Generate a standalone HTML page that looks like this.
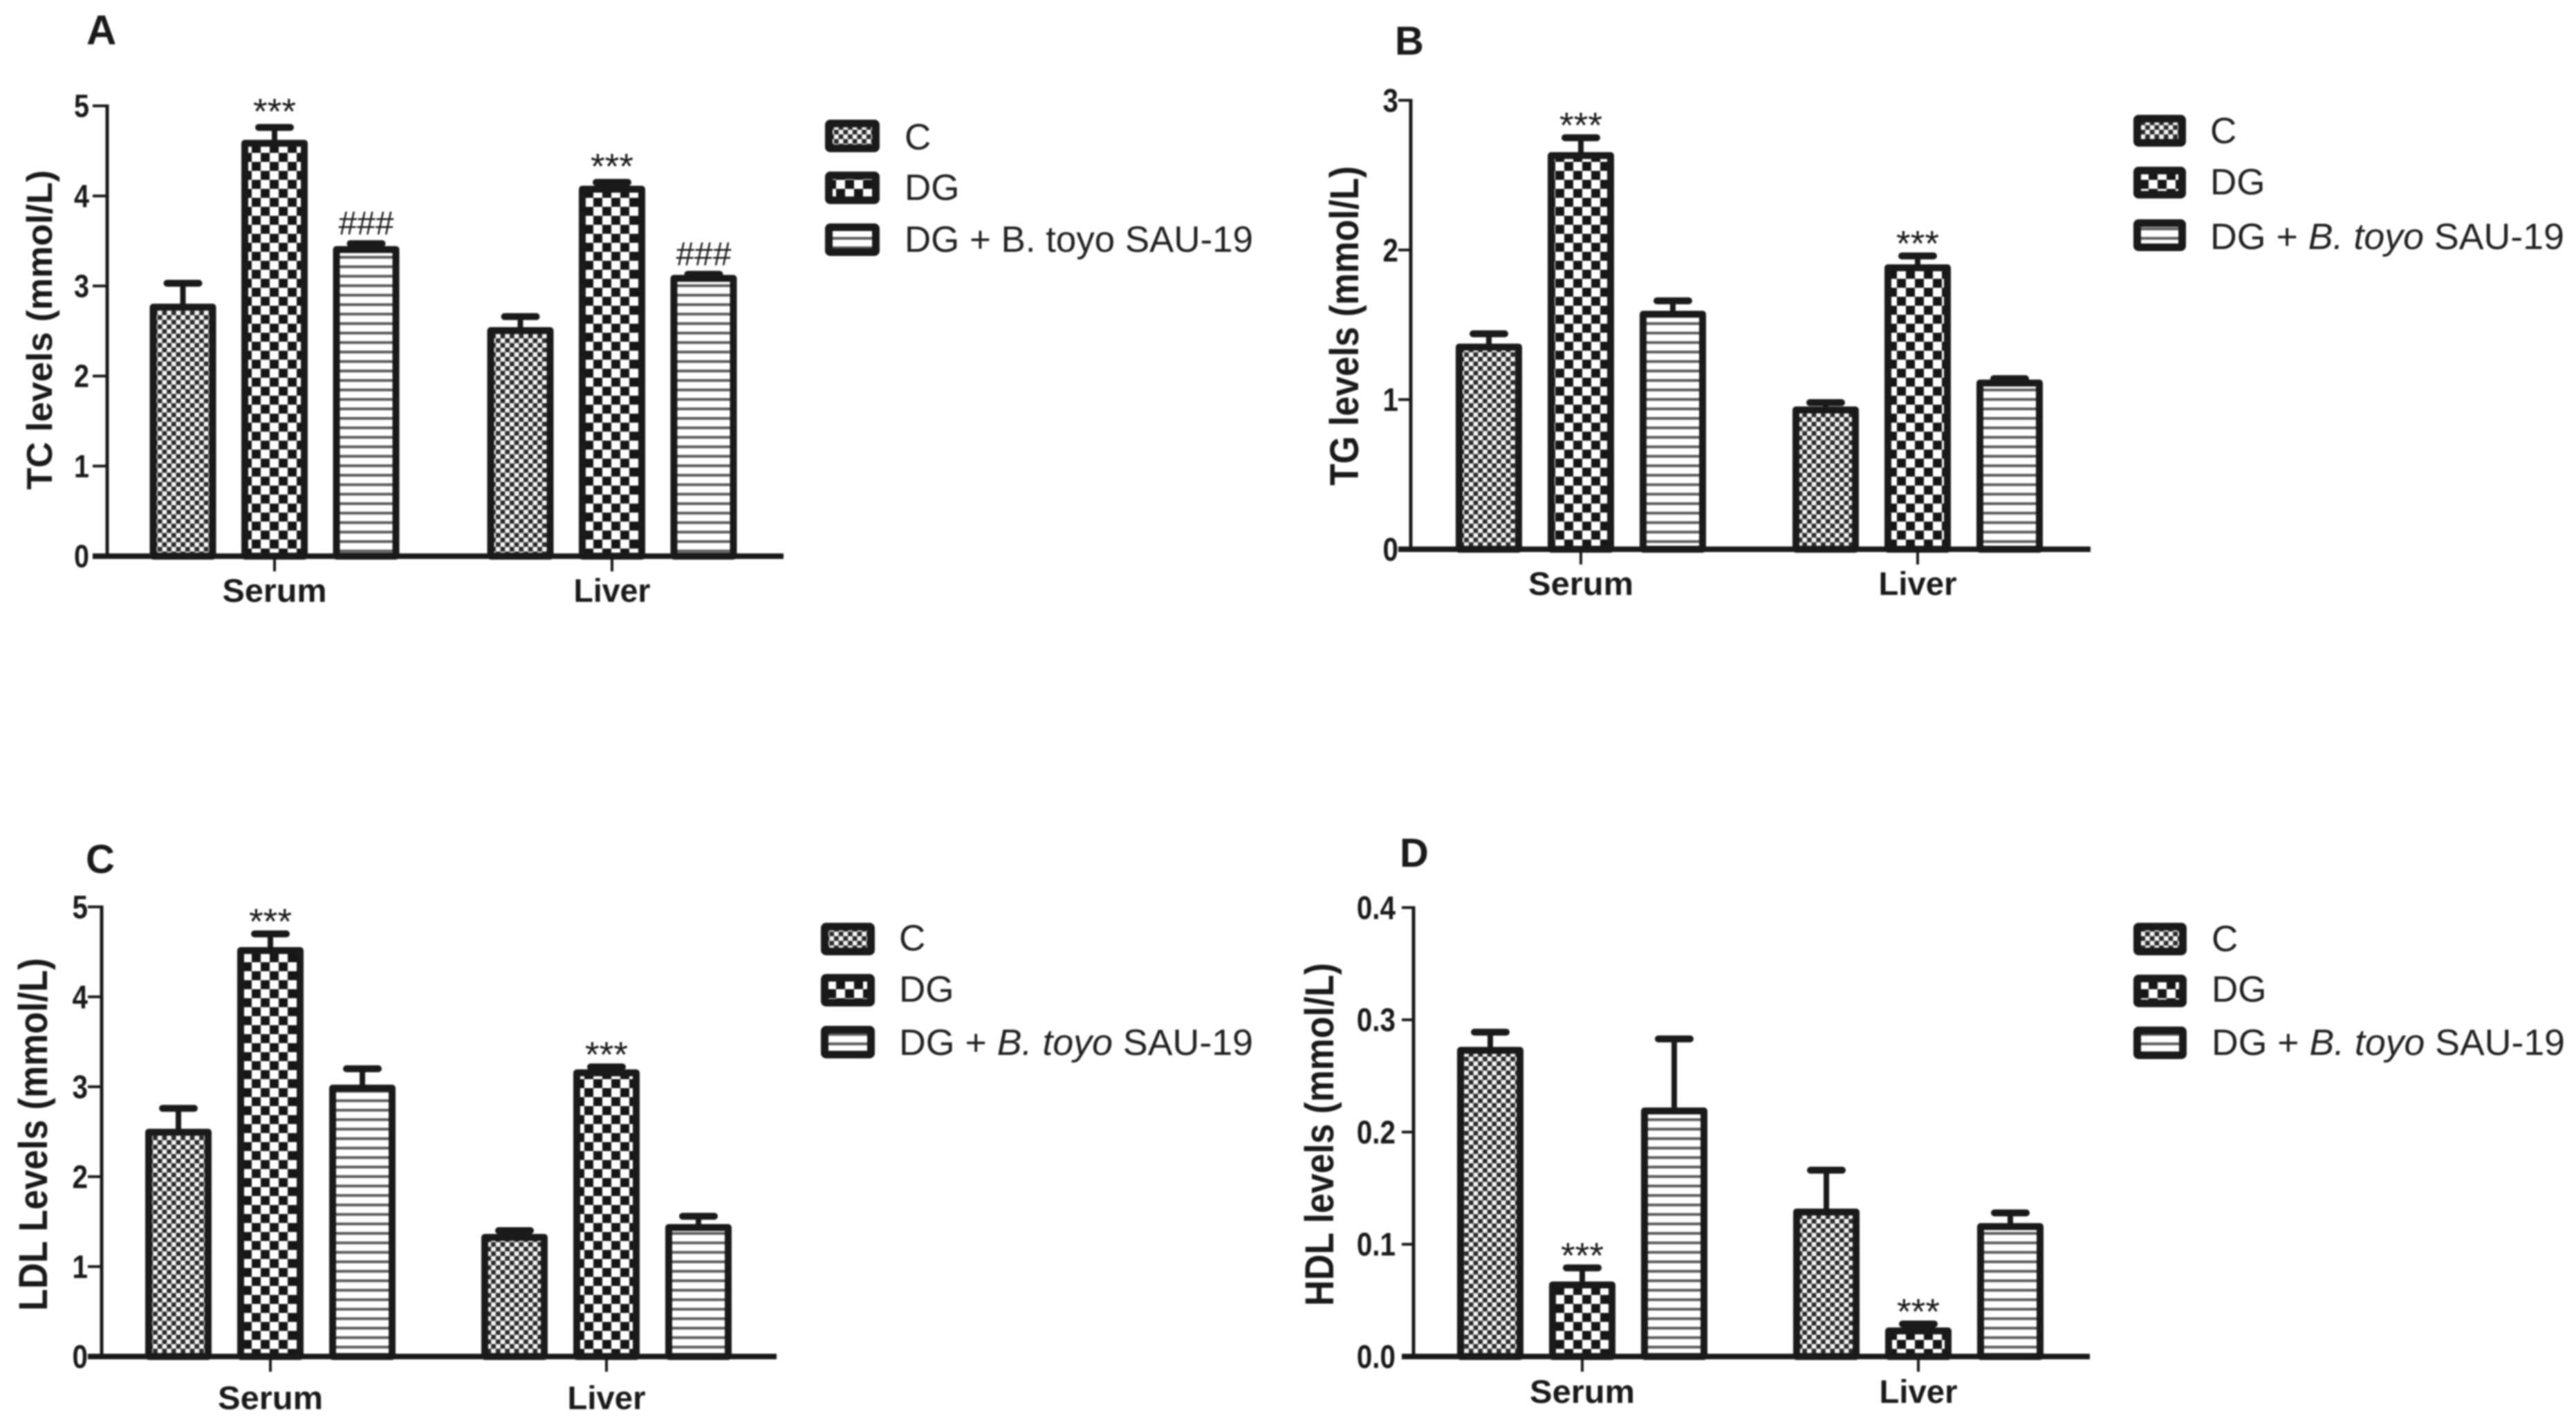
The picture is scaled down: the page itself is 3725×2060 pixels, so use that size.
<!DOCTYPE html>
<html lang="en">
<head>
<meta charset="utf-8">
<title>Lipid levels by treatment group</title>
<style>
html,body{margin:0;padding:0;background:#fff;width:3725px;height:2060px;overflow:hidden}
svg{display:block;font-family:"Liberation Sans",sans-serif}
#art{filter:blur(1.1px)}
</style>
</head>
<body>
<svg id="chart" xmlns="http://www.w3.org/2000/svg" width="3725" height="2060" viewBox="0 0 3725 2060">
<defs>
<pattern id="p-fine" patternUnits="userSpaceOnUse" width="13.4" height="13.4">
<rect width="13.4" height="13.4" fill="#f4f4f4"/>
<rect x="0" y="0" width="6.7" height="6.7" fill="#2a2a2a"/>
<rect x="6.7" y="6.7" width="6.7" height="6.7" fill="#2a2a2a"/>
</pattern>
<pattern id="p-coarse" patternUnits="userSpaceOnUse" width="26" height="26">
<rect width="26" height="26" fill="#fff"/>
<rect x="0" y="0" width="13" height="13" fill="#161616"/>
<rect x="13" y="13" width="13" height="13" fill="#161616"/>
</pattern>
<pattern id="p-stripe" patternUnits="userSpaceOnUse" width="13.7" height="13.7">
<rect width="13.7" height="13.7" fill="#fff"/>
<rect x="0" y="0" width="13.7" height="4" fill="#5c5c5c"/>
</pattern>
</defs>
<rect width="3725" height="2060" fill="#fff"/>
<g id="art"></g>
</svg>
<script>
const categories = ['Serum', 'Liver'];
const seriesNames = ['C', 'DG', 'DG + B. toyo SAU-19'];

const tcTicks = ['0', '1', '2', '3', '4', '5'];
const tcMeans = [2.78, 4.60, 3.42, 2.52, 4.09, 3.10];
const tcErrTops = [3.03, 4.76, 3.47, 2.66, 4.15, 3.13];
const tcMarks = ['', '***', '###', '', '***', '###'];

const tgTicks = ['0', '1', '2', '3'];
const tgMeans = [1.36, 2.64, 1.58, 0.94, 1.89, 1.12];
const tgErrTops = [1.44, 2.75, 1.66, 0.98, 1.96, 1.14];
const tgMarks = ['', '***', '', '', '***', ''];

const ldlTicks = ['0', '1', '2', '3', '4', '5'];
const ldlMeans = [2.51, 4.53, 3.00, 1.34, 3.17, 1.45];
const ldlErrTops = [2.76, 4.70, 3.20, 1.40, 3.22, 1.56];
const ldlMarks = ['', '***', '', '', '***', ''];

const hdlTicks = ['0.0', '0.1', '0.2', '0.3', '0.4'];
const hdlMeans = [0.274, 0.065, 0.220, 0.130, 0.024, 0.117];
const hdlErrTops = [0.289, 0.079, 0.283, 0.166, 0.029, 0.128];
const hdlMarks = ['', '***', '', '', '***', ''];

const panels = [
  {id:'a', letter:'A', lx:125, ly:64, lfs:60, title:'TC levels (mmol/L)', tx:75, tc:477, tl:462, tfs:52,
   ticks:tcTicks, means:tcMeans, tops:tcErrTops, marks:tcMarks,
   ax:155, y0:804, yTop:153, axL:134, axR:1133, tickL:134, labR:129, nfs:46,
   centers:[397,885], pitch:132.5, catY:870, catW:[151,111], cfs:47, starGap:32,
   legX:1193, legW:79, legY:[173,248,323], legH:47, legTx:1308, legEnd:1812, legBase:[216,289,364], italic:false},
  {id:'b', letter:'B', lx:2017, ly:79, lfs:58, title:'TG levels (mmol/L)', tx:1964, tc:471, tl:462, tfs:58,
   ticks:tgTicks, means:tgMeans, tops:tgErrTops, marks:tgMarks,
   ax:2040, y0:794, yTop:145, axL:2022, axR:3023, tickL:2022, labR:2022, nfs:47,
   centers:[2286,2773], pitch:133, catY:860, catW:[152,113], cfs:47, starGap:27,
   legX:3085, legW:76, legY:[166,241,317], legH:46, legTx:3196, legEnd:3708, legBase:[207,281,360], italic:true},
  {id:'c', letter:'C', lx:124, ly:1262, lfs:58, title:'LDL Levels (mmol/L)', tx:68, tc:1640, tl:510, tfs:58,
   ticks:ldlTicks, means:ldlMeans, tops:ldlErrTops, marks:ldlMarks,
   ax:147, y0:1961, yTop:1311, axL:127, axR:1123, tickL:127, labR:127, nfs:47,
   centers:[391,877], pitch:133, catY:2037, catW:[152,113], cfs:47, starGap:27,
   legX:1187, legW:78, legY:[1334,1408,1483], legH:47, legTx:1300, legEnd:1812, legBase:[1374,1448,1525], italic:true},
  {id:'d', letter:'D', lx:2024, ly:1253, lfs:58, title:'HDL levels (mmol/L)', tx:1928, tc:1640, tl:496, tfs:58,
   ticks:hdlTicks, means:hdlMeans, tops:hdlErrTops, marks:hdlMarks,
   ax:2044, y0:1961, yTop:1312, axL:2027, axR:3022, tickL:2027, labR:2018, nfs:47,
   centers:[2288,2774], pitch:133, catY:2028, catW:[152,113], cfs:47, starGap:27,
   legX:3085, legW:77, legY:[1334,1409,1484], legH:47, legTx:3198, legEnd:3709, legBase:[1375,1448,1525], italic:true}
];

const NS = 'http://www.w3.org/2000/svg';
const INK = '#1a1a1a';
const FILLS = ['url(#p-fine)', 'url(#p-coarse)', 'url(#p-stripe)'];
const art = document.getElementById('art');

function mk(parent, tag, attrs, text) {
  const node = document.createElementNS(NS, tag);
  for (const k in attrs) node.setAttribute(k, attrs[k]);
  if (text !== undefined) node.textContent = text;
  parent.appendChild(node);
  return node;
}

function drawPanel(p) {
  const maxV = parseFloat(p.ticks[p.ticks.length - 1]);
  const scaleY = v => p.y0 - (v / maxV) * (p.y0 - p.yTop);
  const scaleX = (g, s) => p.centers[g] + (s - 1) * p.pitch;
  const barW = 96, sw = 10, drop = 2;

  const g = mk(art, 'g', {});
  
  

  let el = mk(g, 'text', {x:p.lx, y:p.ly, 'font-size':p.lfs, 'font-weight':'bold', fill:INK}, p.letter);
  
  

  el = mk(g, 'text', {transform:'translate(' + p.tx + ',' + p.tc + ') rotate(-90)', 'text-anchor':'middle', 'font-size':p.tfs, 'font-weight':'bold', fill:INK, textLength:p.tl, lengthAdjust:'spacingAndGlyphs'}, p.title);
  
  

  // bars + error bars
  p.means.forEach((v, i) => {
    const s = i % 3, gi = Math.floor(i / 3);
    const cx = scaleX(gi, s), top = scaleY(v), cap = scaleY(p.tops[i]);

    el = mk(g, 'line', {x1:cx, x2:cx, y1:top, y2:cap, stroke:INK, 'stroke-width':8});
    
    

    el = mk(g, 'line', {x1:cx - 23, x2:cx + 23, y1:cap, y2:cap, stroke:INK, 'stroke-width':10, 'stroke-linecap':'round'});
    
    

    el = mk(g, 'rect', {x:cx - barW / 2 + sw / 2, y:top + drop, width:barW - sw, height:Math.max(p.y0 - top - drop, 1), fill:FILLS[s], stroke:INK, 'stroke-width':sw, 'stroke-linejoin':'round'});
    
    

    const mark = p.marks[i];
    if (mark === '***') {
      el = mk(g, 'text', {x:cx, y:cap - p.starGap + 27, 'text-anchor':'middle', 'font-size':52, fill:INK, textLength:62, lengthAdjust:'spacingAndGlyphs'}, mark);
      
      
    } else if (mark) {
      el = mk(g, 'text', {x:cx, y:cap - p.starGap + 19, 'text-anchor':'middle', 'font-size':48, fill:INK, textLength:80, lengthAdjust:'spacingAndGlyphs'}, mark);
      
      
    }
  });

  // axes
  el = mk(g, 'line', {x1:p.ax, x2:p.ax, y1:p.yTop - 2, y2:p.y0, stroke:INK, 'stroke-width':5});
  
  

  el = mk(g, 'line', {x1:p.axL, x2:p.axR, y1:p.y0, y2:p.y0, stroke:INK, 'stroke-width':8});
  
  

  p.ticks.forEach((t, i) => {
    const y = scaleY(parseFloat(t));
    el = mk(g, 'line', {x1:p.tickL, x2:p.ax, y1:y, y2:y, stroke:INK, 'stroke-width':i === 0 ? 8 : 4});
    
    

    const natural = t.length === 1 ? 0.556 : 1.39;
    el = mk(g, 'text', {x:p.labR, y:y + p.nfs * 0.35, 'text-anchor':'end', 'font-size':p.nfs, 'font-weight':'bold', fill:INK, textLength:natural * p.nfs * 0.86, lengthAdjust:'spacingAndGlyphs'}, t);
    
    
  });

  categories.forEach((c, i) => {
    const x = p.centers[i];
    el = mk(g, 'line', {x1:x, x2:x, y1:p.y0, y2:p.y0 + 22, stroke:INK, 'stroke-width':4});
    
    

    el = mk(g, 'text', {x:x, y:p.catY, 'text-anchor':'middle', 'font-size':p.cfs, 'font-weight':'bold', fill:INK, textLength:p.catW[i], lengthAdjust:'spacingAndGlyphs'}, c);
    
    
  });

  // legend
  seriesNames.forEach((name, i) => {
    const lg = mk(g, 'g', {});
    
    

    el = mk(lg, 'rect', {x:p.legX + 5.5, y:p.legY[i] + 5.5, width:p.legW - 11, height:p.legH - 11, rx:2, fill:FILLS[i], stroke:INK, 'stroke-width':11, 'stroke-linejoin':'round'});
    
    

    const attrs = {x:p.legTx, y:p.legBase[i], 'font-size':53, fill:'#222'};
    if (i === 2) { attrs.textLength = p.legEnd - p.legTx; attrs.lengthAdjust = 'spacingAndGlyphs'; }
    const label = mk(lg, 'text', attrs);
    
    
    if (i === 2 && p.italic) {
      label.appendChild(document.createTextNode('DG + '));
      mk(label, 'tspan', {'font-style':'italic'}, 'B. toyo');
      label.appendChild(document.createTextNode(' SAU-19'));
    } else {
      label.textContent = name;
    }
  });
}

panels.forEach(drawPanel);
</script>
</body>
</html>
